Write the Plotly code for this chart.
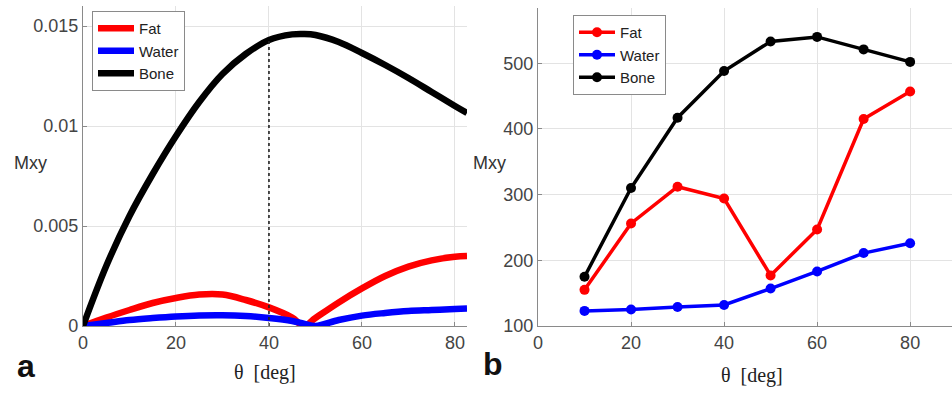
import plotly.graph_objects as go

# ---------------- data: panel a (simulated curves) ----------------
theta_a = [0, 5, 10, 15, 20, 25, 30, 35, 40, 45, 47.5, 50, 55, 60, 65, 70, 75, 80, 82.6]
bone_a = [0, 0.0030, 0.0055, 0.0076, 0.0095, 0.0112, 0.0126, 0.0136, 0.0143, 0.01458,
          0.0146, 0.01455, 0.0142, 0.01365, 0.01305, 0.0124, 0.0117, 0.0110, 0.01065]
fat_a = [0, 0.00042, 0.0008, 0.00115, 0.0014, 0.00157, 0.00157, 0.0013, 0.00093, 0.00042,
         0.0, 0.0004, 0.00118, 0.00188, 0.0025, 0.00297, 0.00328, 0.00346, 0.0035]
water_a = [0, 0.00015, 0.0003, 0.0004, 0.00048, 0.00053, 0.00054, 0.0005, 0.0004, 0.00025,
           0.00012, 0.0, 0.0003, 0.00052, 0.00065, 0.00075, 0.0008, 0.00085, 0.00087]
guide_theta = [40, 40]
guide_m = [0, 0.0143]

# ---------------- data: panel b (measured points) ----------------
theta_b = [10, 20, 30, 40, 50, 60, 70, 80]
fat_b = [155, 256, 312, 294, 177, 247, 415, 457]
water_b = [123, 125, 129, 132, 157, 183, 211, 226]
bone_b = [175, 310, 417, 488, 533, 540, 521, 502]

series_names = ["Fat", "Water", "Bone"]
series_colors = ["#ff0000", "#0000ff", "#000000"]

W, H = 952, 395
SANS = "Liberation Sans, Arial, Helvetica, sans-serif"
SERIF = "Liberation Serif, DejaVu Serif, serif"
TICK_COLOR = "#444444"
GRID = "#e3e3e3"
AXIS = "#8a8a8a"

fig = go.Figure()

for name, color, ys in zip(series_names, series_colors, [fat_a, water_a, bone_a]):
    fig.add_trace(go.Scatter(
        x=theta_a, y=ys, name=name, mode="lines",
        line=dict(color=color, width=6.5, shape="spline", smoothing=1.0),
        xaxis="x", yaxis="y", legend="legend"))

fig.add_trace(go.Scatter(
    x=guide_theta, y=guide_m, mode="lines", showlegend=False,
    line=dict(color="#222222", width=1.6, dash="dot"),
    xaxis="x", yaxis="y"))

for name, color, ys in zip(series_names, series_colors, [fat_b, water_b, bone_b]):
    fig.add_trace(go.Scatter(
        x=theta_b, y=ys, name=name, mode="lines+markers",
        line=dict(color=color, width=3.5),
        marker=dict(color=color, size=10, symbol="circle"),
        xaxis="x2", yaxis="y2", legend="legend2"))

def px_x(p):
    return p / W

def px_y(p):
    return 1 - p / H

common_axis = dict(
    showgrid=True, gridcolor=GRID, gridwidth=1,
    showline=True, linecolor=AXIS, linewidth=1.2,
    ticks="inside", ticklen=4, tickcolor=AXIS,
    tickfont=dict(family=SANS, size=18, color=TICK_COLOR),
    zeroline=False, automargin=False,
)

legend_common = dict(
    xanchor="left", yanchor="top",
    bgcolor="white", bordercolor="#8a8a8a", borderwidth=1,
    font=dict(family=SANS, size=15, color="#222222"),
    tracegroupgap=0, itemwidth=36,
)

fig.update_layout(
    width=W, height=H,
    margin=dict(l=0, r=0, t=0, b=0),
    paper_bgcolor="white", plot_bgcolor="white",
    xaxis=dict(domain=[px_x(83), px_x(467)], range=[0, 82.6],
               tickvals=[0, 20, 40, 60, 80], anchor="y", **common_axis),
    yaxis=dict(domain=[px_y(326), px_y(6)], range=[0, 0.016],
               tickvals=[0, 0.005, 0.01, 0.015], ticktext=["0", "0.005", "0.01", "0.015"],
               anchor="x", **common_axis),
    xaxis2=dict(domain=[px_x(538), 1.0], range=[0, 89],
                tickvals=[0, 20, 40, 60, 80], anchor="y2", **common_axis),
    yaxis2=dict(domain=[px_y(326), px_y(8)], range=[100, 584],
                tickvals=[100, 200, 300, 400, 500], anchor="x2", **common_axis),
    legend=dict(x=px_x(92), y=px_y(11), **legend_common),
    legend2=dict(x=px_x(573), y=px_y(15), **legend_common),
    showlegend=True,
)

annotations = [
    dict(text="Mxy", x=px_x(30), y=px_y(163), font=dict(family=SANS, size=18, color="#333333")),
    dict(text="Mxy", x=px_x(490), y=px_y(163), font=dict(family=SANS, size=18, color="#333333")),
    dict(text="θ  [deg]", x=px_x(265), y=px_y(372), font=dict(family=SERIF, size=20, color="#222222")),
    dict(text="θ  [deg]", x=px_x(752), y=px_y(375), font=dict(family=SERIF, size=20, color="#222222")),
    dict(text="<b>a</b>", x=px_x(26), y=px_y(366), font=dict(family=SANS, size=32, color="#111111")),
    dict(text="<b>b</b>", x=px_x(493), y=px_y(364), font=dict(family=SANS, size=32, color="#111111")),
]
for a in annotations:
    a.update(xref="paper", yref="paper", showarrow=False, xanchor="center", yanchor="middle")
fig.update_layout(annotations=annotations)

fig.write_html("out.html")
